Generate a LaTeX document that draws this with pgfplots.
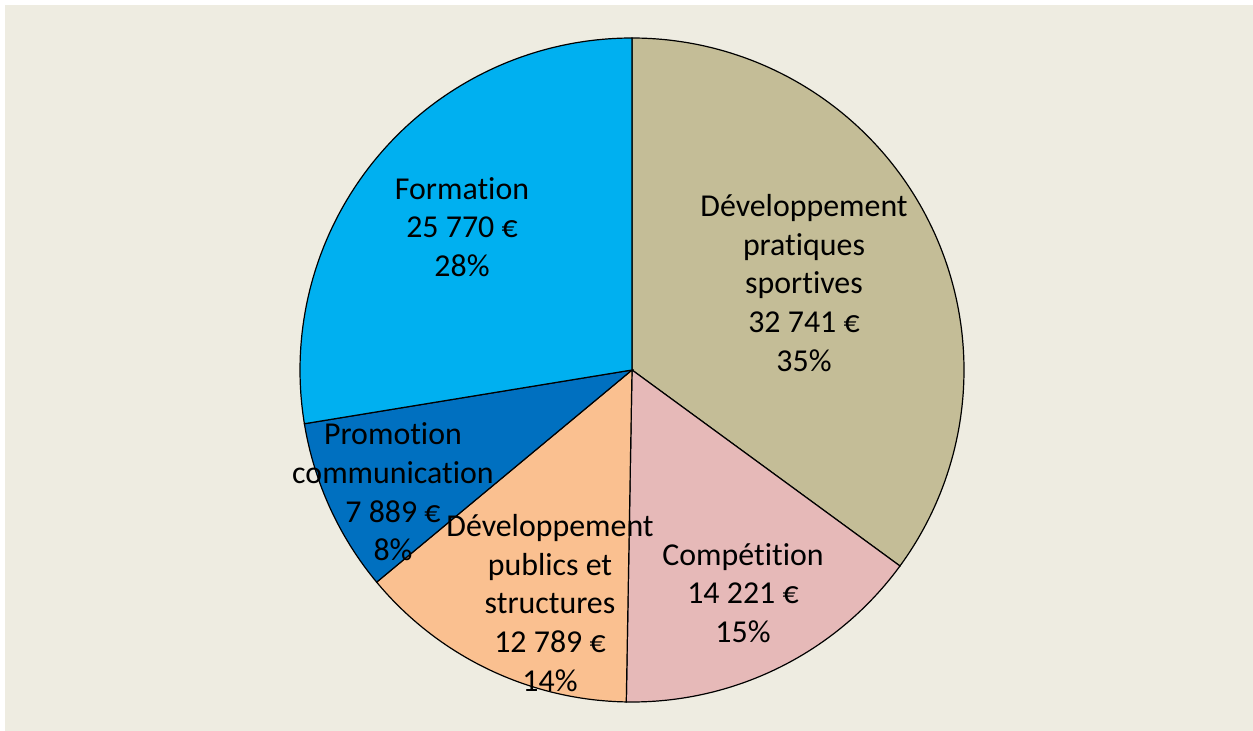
\documentclass[border=0pt]{standalone}
\usepackage{pgfplots}
\pgfplotsset{compat=1.18}
\usepackage{fontspec}
\setmainfont[Ligatures={NoCommon,NoRequired,NoContextual}]{Carlito}
\definecolor{bgc}{HTML}{EEECE1}
\definecolor{cA}{HTML}{C4BD97}
\definecolor{cB}{HTML}{E6B9B8}
\definecolor{cC}{HTML}{FAC090}
\definecolor{cD}{HTML}{0070C0}
\definecolor{cE}{HTML}{00B0F0}
\newcommand\slice[3]{%
  \addplot[draw=black, line width=1.2bp, fill=#3, domain=#1:#2, samples=150]
    ({632+332*cos(x)},{361+332*sin(x)}) -- (axis cs:632,361) -- cycle;}
\begin{document}
\begin{tikzpicture}
% values in thousands of EUR
\def\vA{32.741}% Developpement pratiques sportives
\def\vB{14.221}% Competition
\def\vC{12.789}% Developpement publics et structures
\def\vD{7.889}%  Promotion communication
\def\vE{25.770}% Formation
\pgfmathsetmacro{\tot}{\vA+\vB+\vC+\vD+\vE}
\pgfmathsetmacro{\aA}{90}
\pgfmathsetmacro{\aB}{\aA-360*\vA/\tot}
\pgfmathsetmacro{\aC}{\aB-360*\vB/\tot}
\pgfmathsetmacro{\aD}{\aC-360*\vC/\tot}
\pgfmathsetmacro{\aE}{\aD-360*\vD/\tot}
\pgfmathsetmacro{\aF}{-270}
\begin{axis}[at={(0,0)}, anchor=south west, scale only axis,
  width=1253bp, height=731bp, xmin=0, xmax=1253, ymin=0, ymax=731,
  hide axis, clip=false]
\addplot[draw=none, fill=white] coordinates {(0,0) (1253,0) (1253,731) (0,731)} -- cycle;
\addplot[draw=none, fill=bgc] coordinates {(5,0) (1253,0) (1253,726) (5,726)} -- cycle;
\slice{\aA}{\aB}{cA}
\slice{\aB}{\aC}{cB}
\slice{\aC}{\aD}{cC}
\slice{\aD}{\aE}{cD}
\slice{\aE}{\aF}{cE}
\begin{scope}[every node/.style={align=center, font=\fontsize{32}{38.8}\selectfont, text=black, inner sep=0pt}]
\node at (axis cs:804,448) {Développement\\pratiques\\sportives\\32 741 €\\35\%};
\node at (axis cs:462,504) {Formation\\25 770 €\\28\%};
\node at (axis cs:743,138) {Compétition\\14 221 €\\15\%};
\node at (axis cs:550,128) {Développement\\publics et\\structures\\12 789 €\\14\%};
\node at (axis cs:393,239) {Promotion\\communication\\7 889 €\\8\%};
\end{scope}
\end{axis}
\end{tikzpicture}
\end{document}
